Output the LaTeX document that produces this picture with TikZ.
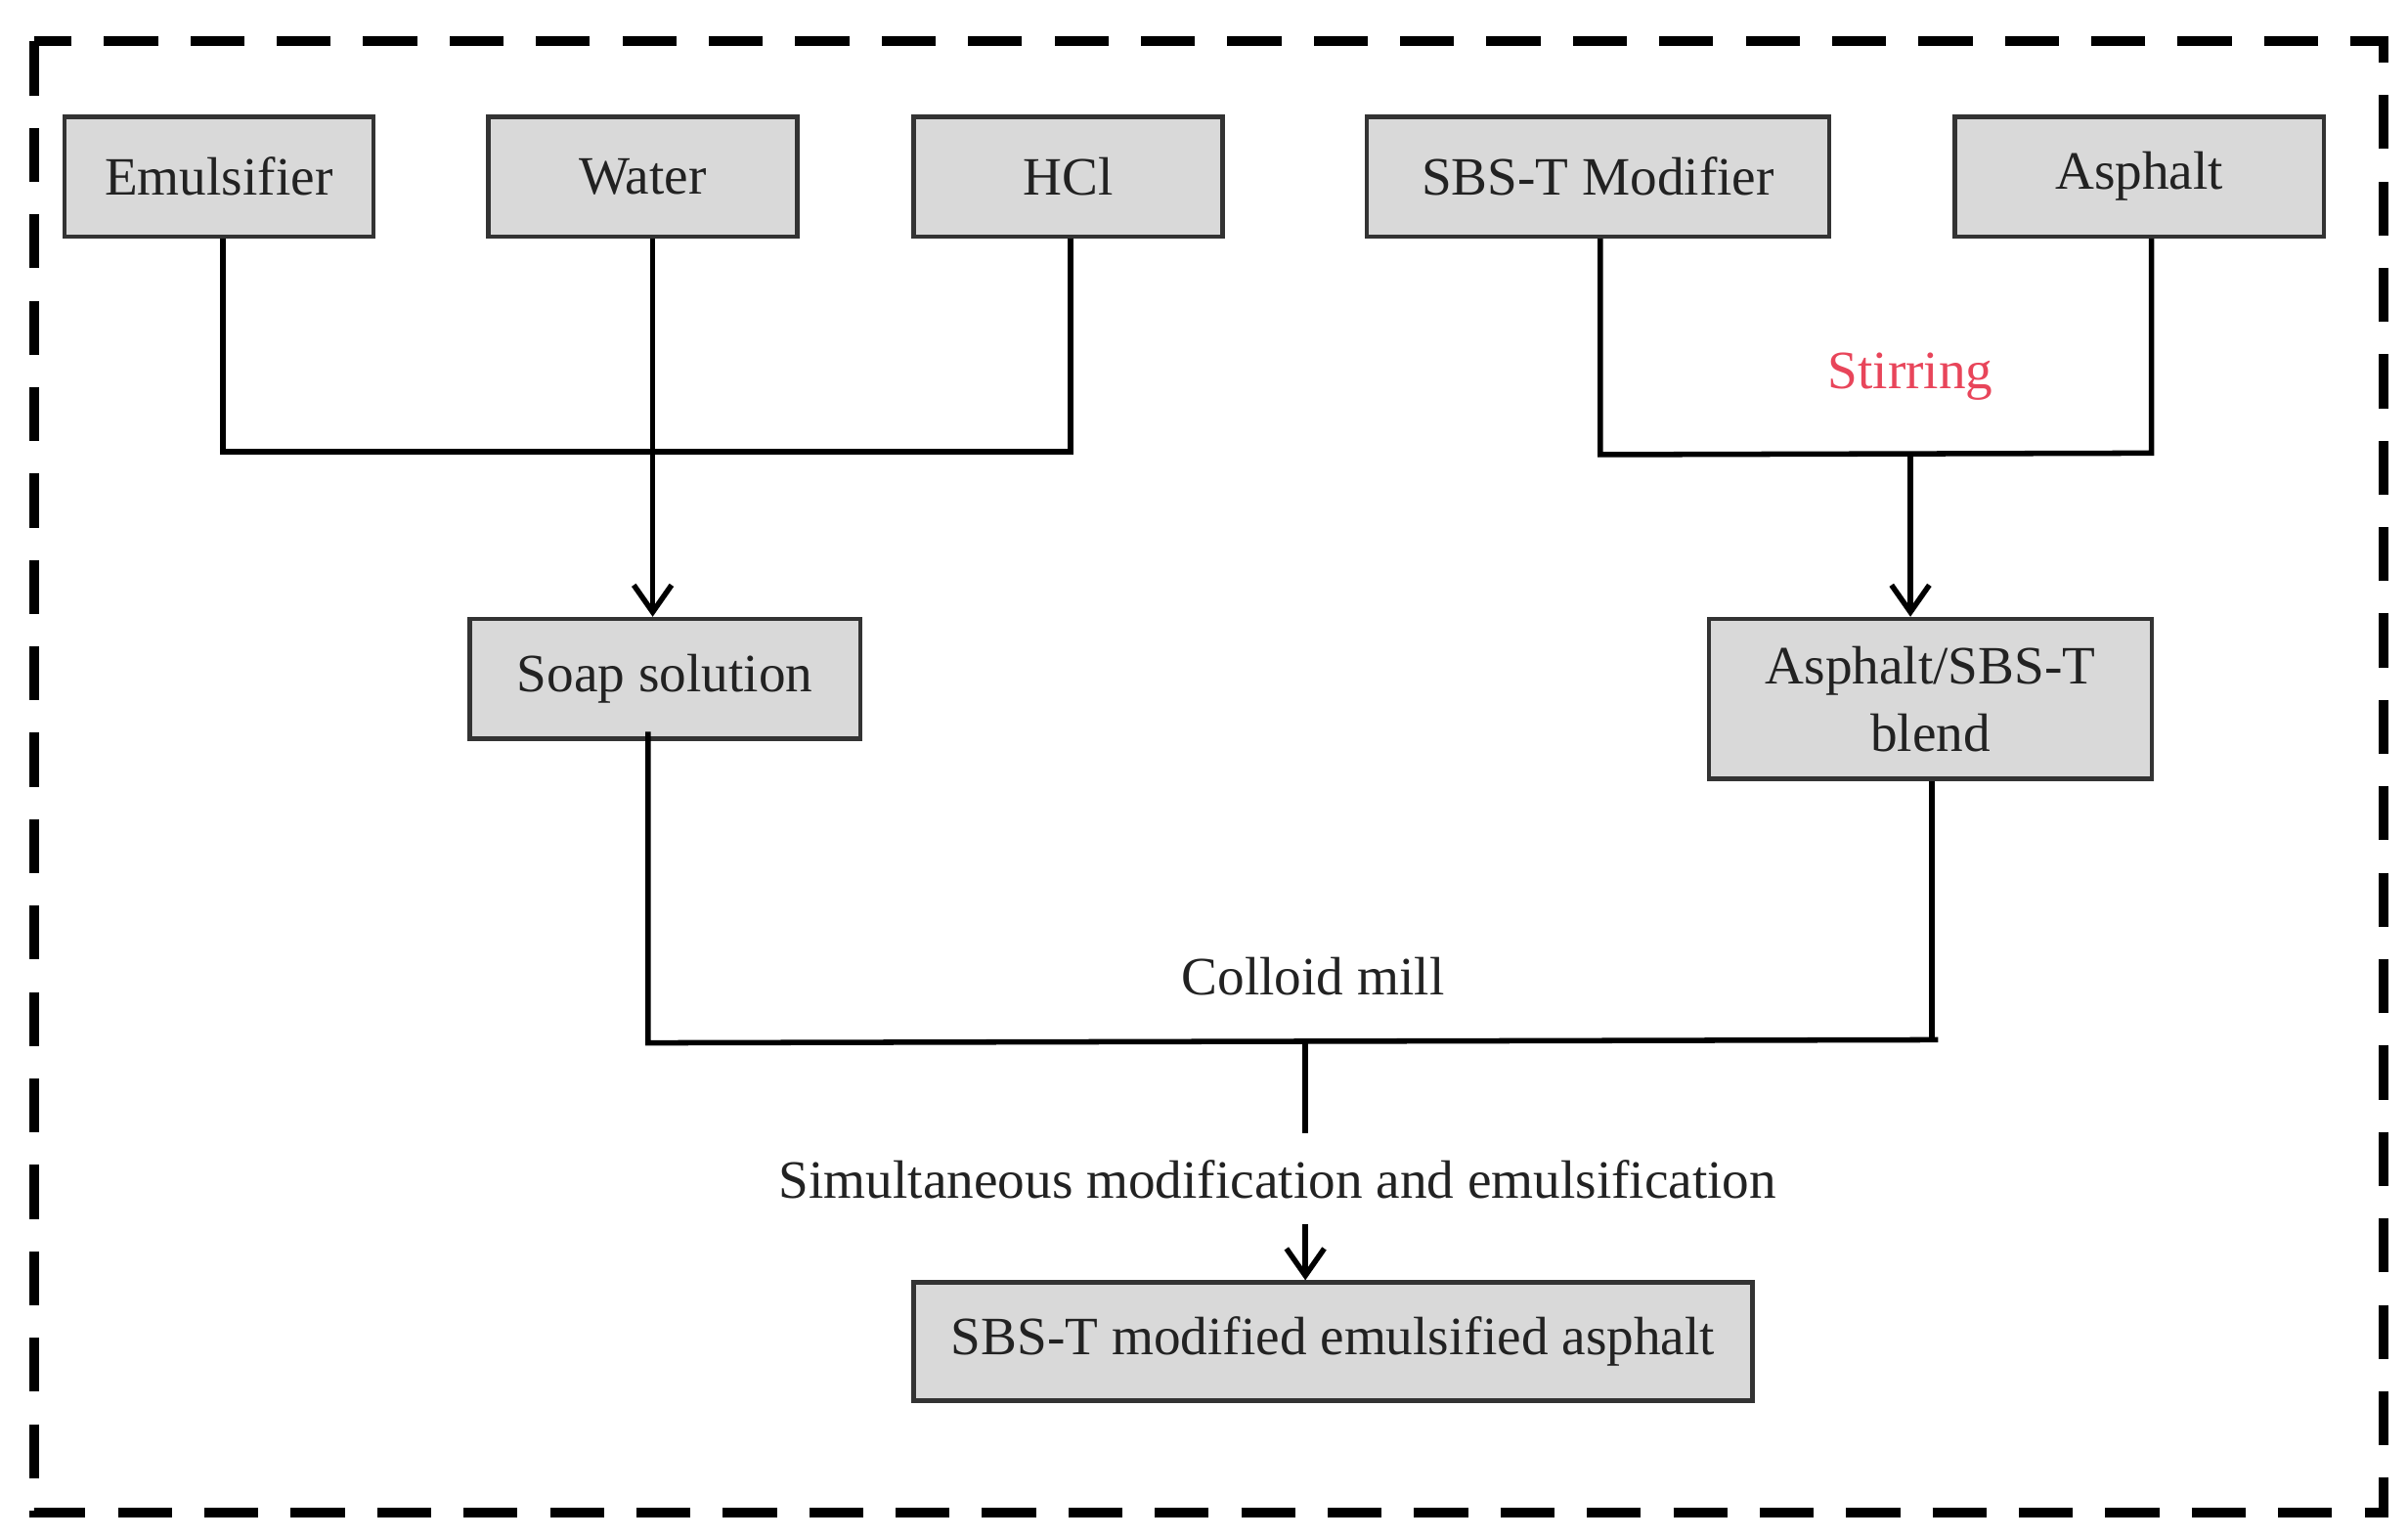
\documentclass[tikz,border=0pt]{standalone}
\usepackage{fontspec}
\setmainfont{Liberation Serif}
\usetikzlibrary{arrows.meta}
\definecolor{boxfill}{HTML}{D9D9D9}
\definecolor{txt}{HTML}{222222}
\definecolor{stir}{HTML}{E8455A}
\begin{document}
\begin{tikzpicture}[x=0.01cm,y=-0.01cm,
  box/.style={draw=black!80,line width=0.8pt,fill=boxfill,inner sep=0pt,text=txt,font=\fontsize{10}{12.5}\selectfont,align=center},
  ln/.style={line width=1pt,black},
  arr/.style={ln,-{Straight Barb[length=5pt,width=7pt]}},
  lab/.style={font=\fontsize{10}{12}\selectfont,text=txt}]
\useasboundingbox (0,0) rectangle (1568,1002);
\draw[line width=1.8pt,dash pattern=on 10pt off 6pt] (22,27) rectangle (1552,985);
\node[box,minimum width=2.01cm,minimum height=0.78cm] (emu) at (142.5,115) {Emulsifier};
\node[box,minimum width=2.01cm,minimum height=0.78cm] (wat) at (418.5,115) {Water};
\node[box,minimum width=2.01cm,minimum height=0.78cm] (hcl) at (695.5,115) {HCl};
\node[box,minimum width=3.01cm,minimum height=0.78cm] (sbs) at (1040.5,115) {SBS-T Modifier};
\node[box,minimum width=2.40cm,minimum height=0.78cm] (asp) at (1393,115) {Asphalt};
\node[box,minimum width=2.54cm,minimum height=0.78cm] (soap) at (433,442) {Soap solution};
\node[box,minimum width=2.88cm,minimum height=1.04cm] (blend) at (1257,455) {Asphalt/SBS-T\\blend};
\node[box,minimum width=5.46cm,minimum height=0.77cm] (fin) at (868,873.5) {SBS-T modified emulsified asphalt};
\node[lab,text=stir] at (1244,245) {Stirring};
\node[lab] at (855,636) {Colloid mill};
\node[lab] (sim) at (832,768) {Simultaneous modification and emulsification};
\coordinate (j1) at (145,294); \coordinate (j2) at (697,294);
\draw[ln] (emu.south -| j1) -- (j1) -- (j2) -- (hcl.south -| j2);
\coordinate (w) at (425,294);
\draw[arr] (wat.south -| w) -- (soap.north -| w);
\coordinate (k1) at (1042,296); \coordinate (k2) at (1401,295);
\draw[ln] (sbs.south -| k1) -- (k1) -- (k2) -- (asp.south -| k2);
\coordinate (k3) at (1244,296);
\draw[arr] (k3) -- (blend.north -| k3);
\coordinate (m1) at (422,679); \coordinate (m2) at (1262,677); \coordinate (m3) at (1258,677);
\draw[ln] (soap.south -| m1) ++(0,-6) -- (m1) -- (m2);
\draw[ln] (blend.south -| m3) -- (m3);
\coordinate (c1) at (850,678); \coordinate (c2) at (850,738); \coordinate (c3) at (850,797);
\draw[ln] (c1) -- (c2);
\draw[arr] (c3) -- (fin.north -| c3);
\end{tikzpicture}
\end{document}
